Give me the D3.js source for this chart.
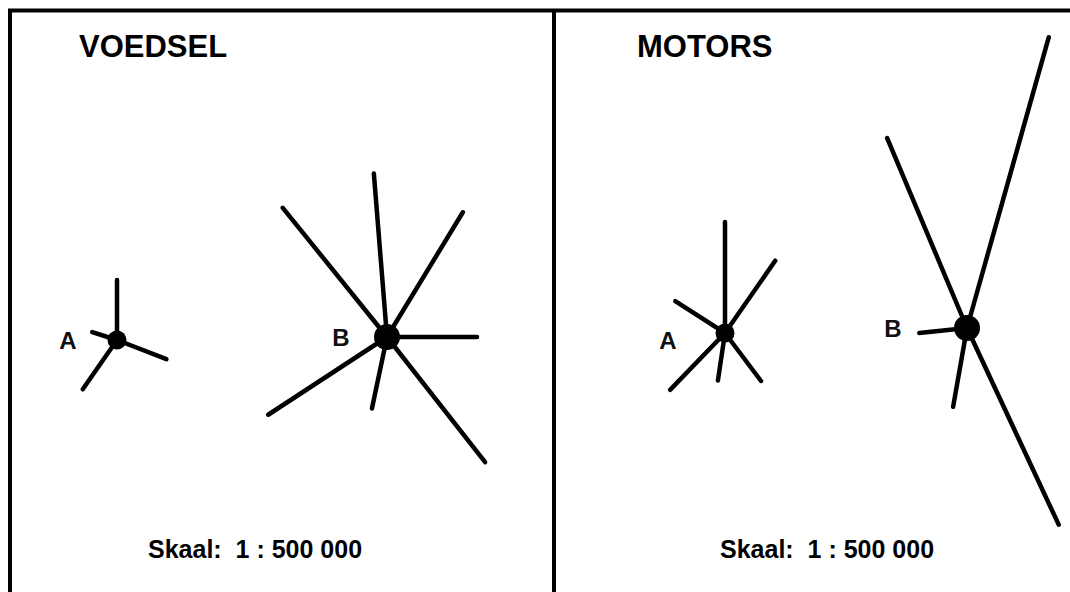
<!DOCTYPE html>
<html><head><meta charset="utf-8">
<script src="https://cdn.jsdelivr.net/npm/d3@7"></script>
<style>body{margin:0;background:#fff}svg{display:block}</style>
</head><body>
<svg id="c" width="1070" height="592"></svg>
<script>
// ---- data ----
const panels = ["VOEDSEL", "MOTORS"];
const scaleLabel = "Skaal:  1 : 500 000";
const towns = ["A", "B"];
// town positions inside each panel (map units, px-like)
const voedselTownX = [107, 377];
const voedselTownY = [340, 337];
const motorsTownX = [171, 413];
const motorsTownY = [333, 328];
// spokes: bearing (deg clockwise from north) and length (flow size)
const voedselA_bearing = [0, 287.7, 214.8, 111.2];
const voedselA_length  = [60, 26, 60, 53];
const voedselB_bearing = [355.4, 321.1, 31.3, 90, 141.9, 191.9, 236.8];
const voedselB_length  = [164, 166, 146, 90, 159, 73, 142];
const motorsA_bearing = [0, 34.8, 302.6, 224, 188.5, 143.1];
const motorsA_length  = [111, 88, 59, 79, 48, 60];
const motorsB_bearing = [15.7, 337.2, 264.1, 190, 155];
const motorsB_length  = [302, 206, 48, 80, 217];
const townSize = [1, 2]; // A small node, B large node

const W = 1070, H = 592;
const svg = d3.select("#c");
const font = "'Liberation Sans', Arial, sans-serif";

const panelX = d3.scaleBand().domain(panels).range([10, 1098]).paddingInner(0);
const len = d3.scaleLinear().domain([0, 100]).range([0, 100]);
const rScale = d3.scaleLinear().domain([1, 2]).range([9.5, 13]);

const panelData = [
  {name: "VOEDSEL", tx: voedselTownX, ty: voedselTownY,
   spokes: [[voedselA_bearing, voedselA_length], [voedselB_bearing, voedselB_length]],
   titleX: 69, skaalX: 138},
  {name: "MOTORS", tx: motorsTownX, ty: motorsTownY,
   spokes: [[motorsA_bearing, motorsA_length], [motorsB_bearing, motorsB_length]],
   titleX: 83, skaalX: 166}
];

const labelOffset = [[-49, 0], [-46, 0]];
const labelOffsetM = [[-57, 7], [-74, 0]];

panelData.forEach((p, pi) => {
  const x0 = panelX(p.name);
  const g = svg.append("g").attr("transform", `translate(${x0},0)`);
  towns.forEach((t, ti) => {
    const cx = p.tx[ti], cy = p.ty[ti];
    const [bearings, lengths] = p.spokes[ti];
    const data = bearings.map((b, i) => ({b, l: lengths[i]}));
    g.selectAll(null).data(data).enter().append("line")
      .attr("x1", cx).attr("y1", cy)
      .attr("x2", d => cx + len(d.l) * Math.sin(d.b * Math.PI / 180))
      .attr("y2", d => cy - len(d.l) * Math.cos(d.b * Math.PI / 180))
      .attr("stroke", "#000").attr("stroke-width", 4.5).attr("stroke-linecap", "round");
    g.append("circle").attr("cx", cx).attr("cy", cy).attr("r", rScale(townSize[ti])).attr("fill", "#000");
    const off = pi === 0 ? labelOffset[ti] : labelOffsetM[ti];
    g.append("text").attr("x", cx + off[0]).attr("y", cy + off[1])
      .attr("text-anchor", "middle").attr("dy", "0.36em")
      .attr("font-family", font).attr("font-weight", "bold").attr("font-size", 24)
      .attr("fill", "#111").text(t);
  });
  g.append("text").attr("x", p.titleX).attr("y", 57)
    .attr("font-family", font).attr("font-weight", "bold").attr("font-size", 31)
    .attr("fill", "#000").text(p.name);
  g.append("text").attr("x", p.skaalX).attr("y", 558)
    .attr("font-family", font).attr("font-weight", "bold").attr("font-size", 25)
    .attr("fill", "#000").attr("xml:space", "preserve").style("white-space", "pre").text(scaleLabel);
});

// frame
svg.append("line").attr("x1", 8).attr("x2", W).attr("y1", 10.5).attr("y2", 10.5)
  .attr("stroke", "#000").attr("stroke-width", 4);
svg.append("line").attr("x1", 10).attr("x2", 10).attr("y1", 9).attr("y2", H)
  .attr("stroke", "#000").attr("stroke-width", 4);
svg.append("line").attr("x1", 554).attr("x2", 554).attr("y1", 9).attr("y2", H)
  .attr("stroke", "#000").attr("stroke-width", 4);
</script>
</body></html>
